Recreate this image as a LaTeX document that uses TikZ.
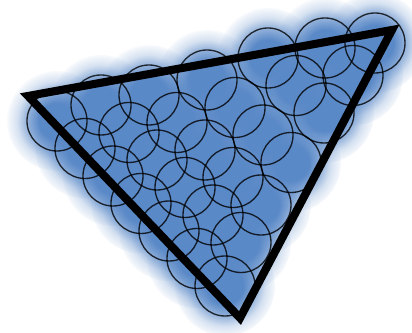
\documentclass[tikz,border=0pt]{standalone}
\usepackage{tikz}
\usetikzlibrary{fadings}

\definecolor{discblue}{RGB}{72,124,193}
% soft edge for the halo round each disc
\pgfdeclareradialshading{halofadeshade}{\pgfpointorigin}{color(0bp)=(white); color(9bp)=(white); color(15bp)=(black!35); color(20bp)=(black!75); color(26bp)=(black); color(50bp)=(black)}
\pgfdeclarefading{halofade}{\pgfuseshading{halofadeshade}}

\begin{document}
\begin{tikzpicture}[x=0.02cm, y=-0.02cm,
    halo/.style={fill=discblue, path fading=halofade},
    disc/.style={draw=black, draw opacity=0.8, line width=0.75pt},
    edge/.style={line width=4.6pt, line join=miter}]
  \useasboundingbox (0,0) rectangle (412,333);
  % ============================================================
  % disc centres: top row (k) then steps of (\vx,\vy) towards C
  % ============================================================
  \def\vx{28}   % step along the left side
  \def\vy{27.5}
  \def\rdisc{30}  % disc radius
  \def\rhalo{50}  % halo radius

  \coordinate (A) at (28,96);
  \coordinate (B) at (392,30);
  \coordinate (C) at (240,318);

  % 1. Centres
  \foreach \tx/\ty [count=\k from 0] in {57/121, 101/105, 149/95, 207/80, 268/58, 325/48, 375/43} {
    \pgfmathtruncatemacro{\mmax}{6-\k}
    \foreach \m in {0,...,\mmax}
      \coordinate (c-\k-\m) at (\tx+\m*\vx, \ty+\m*\vy);
  }

  % 2. Halos (behind everything, one group so overlaps stay flat)
  \begin{scope}[transparency group, opacity=0.9]
    \foreach \k in {0,...,6} {
      \pgfmathtruncatemacro{\mmax}{6-\k}
      \foreach \m in {0,...,\mmax}
        \fill[halo] (c-\k-\m) circle (\rhalo);
    }
  \end{scope}

  % 3. Disc outlines
  \foreach \k in {0,...,6} {
    \pgfmathtruncatemacro{\mmax}{6-\k}
    \foreach \m in {0,...,\mmax}
      \draw[disc] (c-\k-\m) circle (\rdisc);
  }

  % 4. Triangle
  \draw[edge] (A) -- (B) -- (C) -- cycle;
\end{tikzpicture}
\end{document}
